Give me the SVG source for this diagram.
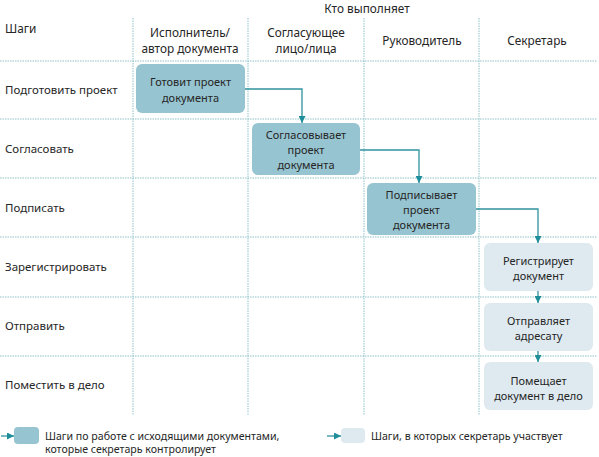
<svg xmlns="http://www.w3.org/2000/svg" width="599" height="457" viewBox="0 0 599 457">
<style>
text{font-family:"Noto Sans","Liberation Sans",sans-serif;font-size:11.5px;fill:#262626}
.c{text-anchor:middle}
.b{font-size:11px}
.h{font-size:11.8px}
.lg{font-size:10.6px}
.grid line{stroke:#8fc2c7;stroke-width:1;stroke-dasharray:1.5 1}
.dark{fill:#96c4d0}
.light{fill:#dfeaf0}
.conn path{fill:none;stroke:#2f939e;stroke-width:1.3}
</style>
<defs>
<marker id="ah" viewBox="0 0 8 8" refX="8" refY="4" markerWidth="7" markerHeight="7" markerUnits="userSpaceOnUse" orient="auto">
<path d="M0,0 L8,4 L0,8 Z" fill="#1f8e9a"/>
</marker>
</defs>
<rect width="599" height="457" fill="#ffffff"/>
<g class="grid">
<line x1="133" y1="18" x2="133" y2="415"/>
<line x1="248" y1="18" x2="248" y2="415"/>
<line x1="364" y1="18" x2="364" y2="415"/>
<line x1="479" y1="18" x2="479" y2="415"/>
<line x1="0" y1="61" x2="597" y2="61"/>
<line x1="0" y1="119" x2="597" y2="119"/>
<line x1="0" y1="178" x2="597" y2="178"/>
<line x1="0" y1="237" x2="597" y2="237"/>
<line x1="0" y1="297" x2="597" y2="297"/>
<line x1="0" y1="356" x2="597" y2="356"/>
</g>
<g id="header">
<text class="c h" x="367" y="13">Кто выполняет</text>
<text class="h" x="5" y="33">Шаги</text>
<text class="c h" x="190" y="37">Исполнитель/</text>
<text class="c h" x="190" y="53">автор документа</text>
<text class="c h" x="306" y="37">Согласующее</text>
<text class="c h" x="306" y="53">лицо/лица</text>
<text class="c h" x="422" y="45">Руководитель</text>
<text class="c h" x="537" y="45">Секретарь</text>
</g>
<g id="rows">
<text x="5" y="94">Подготовить проект</text>
<text x="5" y="153">Согласовать</text>
<text x="5" y="212">Подписать</text>
<text x="5" y="271">Зарегистрировать</text>
<text x="5" y="330">Отправить</text>
<text x="5" y="389">Поместить в дело</text>
</g>
<g class="conn">
<path d="M245 89 H302 V123" marker-end="url(#ah)"/>
<path d="M360 150 H419 V183" marker-end="url(#ah)"/>
<path d="M476 209 H538 V243" marker-end="url(#ah)"/>
<path d="M538 291 V303" marker-end="url(#ah)"/>
<path d="M538 351 V362" marker-end="url(#ah)"/>
</g>
<g id="n1"><rect class="dark" x="136" y="64" width="109" height="49" rx="6"/>
<text class="c b" x="190.5" y="86">Готовит проект</text><text class="c b" x="190.5" y="102">документа</text></g>
<g id="n2"><rect class="dark" x="252" y="123" width="108" height="52" rx="6"/>
<text class="c b" x="306" y="139">Согласовывает</text><text class="c b" x="306" y="154">проект</text><text class="c b" x="306" y="169">документа</text></g>
<g id="n3"><rect class="dark" x="367" y="183" width="109" height="52" rx="6"/>
<text class="c b" x="421.5" y="199">Подписывает</text><text class="c b" x="421.5" y="214">проект</text><text class="c b" x="421.5" y="229">документа</text></g>
<g id="n4"><rect class="light" x="484" y="243" width="109" height="48" rx="6"/>
<text class="c b" x="538.5" y="265">Регистрирует</text><text class="c b" x="538.5" y="280">документ</text></g>
<g id="n5"><rect class="light" x="484" y="303" width="109" height="48" rx="6"/>
<text class="c b" x="538.5" y="325">Отправляет</text><text class="c b" x="538.5" y="340">адресату</text></g>
<g id="n6"><rect class="light" x="484" y="362" width="109" height="48" rx="6"/>
<text class="c b" x="538.5" y="385">Помещает</text><text class="c b" x="538.5" y="400">документ в дело</text></g>
<g id="legend">
<g class="conn"><path d="M1 436 H14" marker-end="url(#ah)"/><path d="M327 436 H341" marker-end="url(#ah)"/></g>
<rect class="dark" x="14" y="427" width="25" height="17" rx="4"/>
<text class="lg" x="45" y="440">Шаги по работе с исходящими документами,</text>
<text class="lg" x="45" y="453">которые секретарь контролирует</text>
<rect class="light" x="341" y="428" width="24" height="15" rx="4"/>
<text class="lg" x="371" y="440">Шаги, в которых секретарь участвует</text>
</g>
</svg>
